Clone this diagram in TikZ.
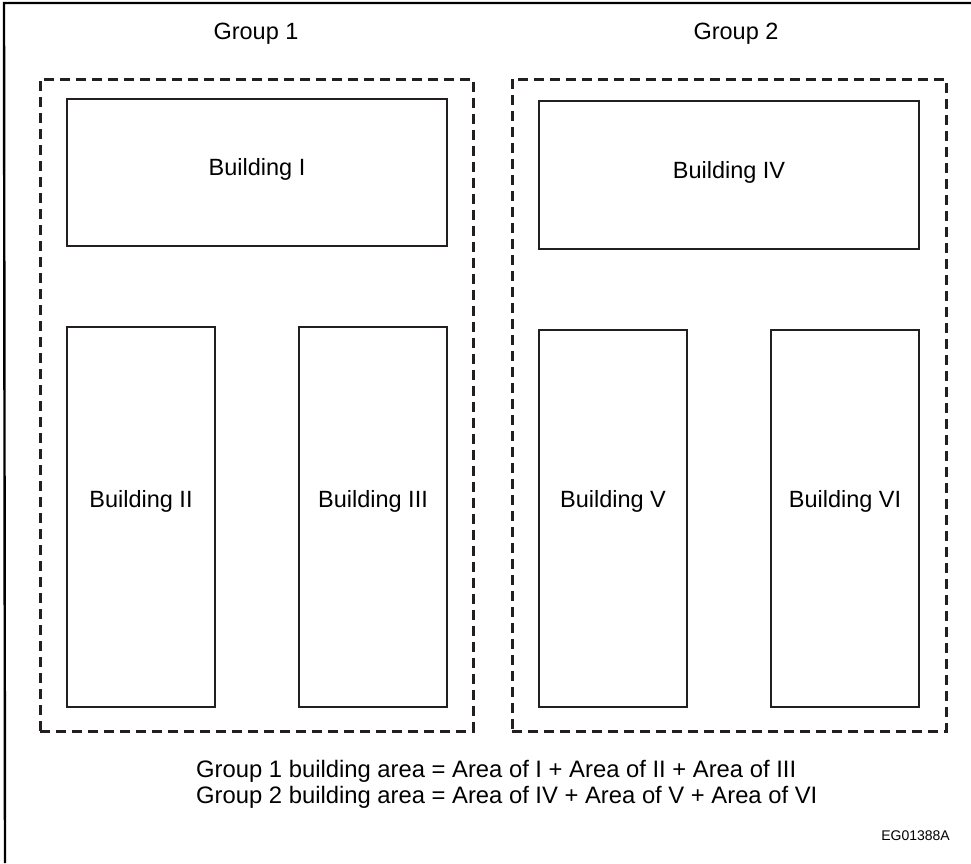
\documentclass[tikz,border=0pt]{standalone}
\usepackage{fontspec}
\setmainfont{Liberation Sans}
\usepackage{tikz}
\usetikzlibrary{positioning}
\definecolor{mydark}{RGB}{35,31,32}
\tikzset{
  bldg/.style={rectangle, draw=mydark, line width=2.7pt, inner sep=0pt},
  groupbox/.style={rectangle, draw=mydark, line width=3pt, inner sep=0pt,
    dash pattern=on 10pt off 6pt},
  lbl/.style={font=\fontsize{23.5}{27}\selectfont, inner sep=0pt},
  frame/.style={line width=2.4pt, color=black}
}
\begin{document}
\begin{tikzpicture}[x=1pt, y=-1pt]
  \useasboundingbox (0,0) rectangle (971,863);

  % outer frame (top and left only)
  \coordinate (ftl) at (4,3);
  \coordinate (ftr) at (971,3);
  \coordinate (fbl) at (5,863);
  \draw[frame] (fbl) -- (ftl) -- (ftr);

  % groups
  \node[groupbox, minimum width=433pt, minimum height=652pt] (g1) at (256.5,405) {};
  \node[groupbox, minimum width=434pt, minimum height=652pt] (g2) at (729,405) {};
  \node[lbl] (g1lbl) at (256,34) {Group 1};
  \node[lbl] (g2lbl) at (736,34) {Group 2};

  % buildings
  \node[bldg, minimum width=380pt, minimum height=147pt] (b1) at (257,172.5) {};
  \node[bldg, minimum width=148pt, minimum height=380pt] (b2) at (141,517) {};
  \node[bldg, minimum width=148pt, minimum height=380pt] (b3) at (373,517) {};
  \node[bldg, minimum width=380pt, minimum height=148pt] (b4) at (729,175) {};
  \node[bldg, minimum width=148pt, minimum height=377pt] (b5) at (613,518.5) {};
  \node[bldg, minimum width=148pt, minimum height=377pt] (b6) at (845,518.5) {};
  \node[lbl] (b1lbl) at ([yshift=3pt]b1.center) {Building I};
  \node[lbl] (b2lbl) at ([yshift=16pt]b2.center) {Building II};
  \node[lbl] (b3lbl) at ([yshift=16pt]b3.center) {Building III};
  \node[lbl] (b4lbl) at ([yshift=3pt]b4.center) {Building IV};
  \node[lbl] (b5lbl) at ([yshift=17pt]b5.center) {Building V};
  \node[lbl] (b6lbl) at ([yshift=17pt]b6.center) {Building VI};

  % formulas
  \node[lbl, align=left, anchor=north west, font=\fontsize{23.8}{26}\selectfont] (formula) at (196,760)
    {Group 1 building area = Area of I + Area of II + Area of III\\
     Group 2 building area = Area of IV + Area of V + Area of VI};
  \node[lbl, anchor=east, font=\fontsize{14}{16}\selectfont] (code) at (950,836) {EG01388A};
\end{tikzpicture}
\end{document}
